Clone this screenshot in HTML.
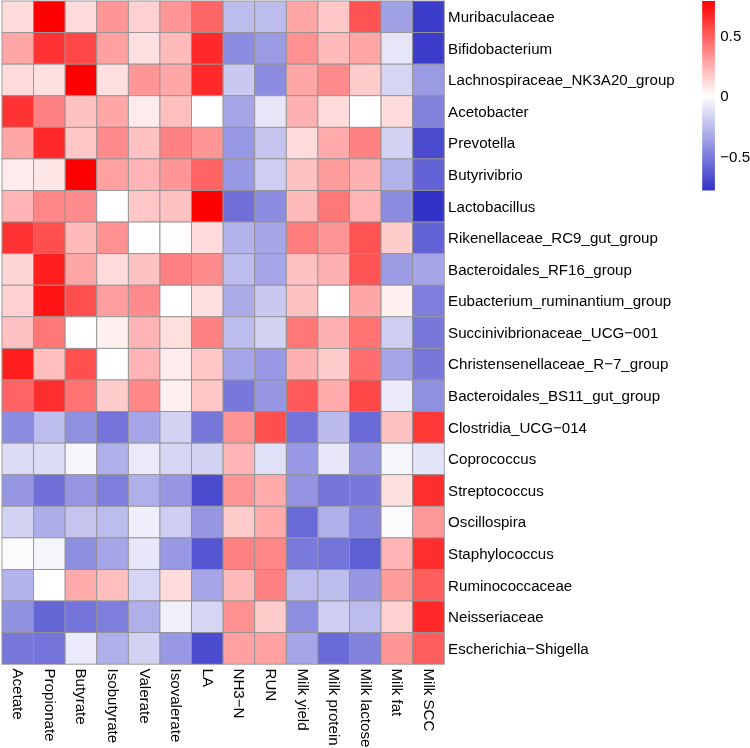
<!DOCTYPE html><html><head><meta charset="utf-8"><style>html,body{margin:0;padding:0;background:#fff;width:750px;height:748px;overflow:hidden}svg{display:block;will-change:transform}text{font-family:"Liberation Sans",sans-serif;font-size:15.1px;fill:#000}</style></head><body>
<svg width="750" height="748" viewBox="0 0 750 748">
<rect x="2.00" y="1.00" width="31.59" height="31.58" fill="rgb(255,219,219)" stroke="#949494" stroke-width="0.9"/>
<rect x="33.59" y="1.00" width="31.59" height="31.58" fill="rgb(255,0,0)" stroke="#949494" stroke-width="0.9"/>
<rect x="65.18" y="1.00" width="31.59" height="31.58" fill="rgb(255,219,219)" stroke="#949494" stroke-width="0.9"/>
<rect x="96.77" y="1.00" width="31.59" height="31.58" fill="rgb(255,150,150)" stroke="#949494" stroke-width="0.9"/>
<rect x="128.36" y="1.00" width="31.59" height="31.58" fill="rgb(255,209,209)" stroke="#949494" stroke-width="0.9"/>
<rect x="159.95" y="1.00" width="31.59" height="31.58" fill="rgb(255,150,150)" stroke="#949494" stroke-width="0.9"/>
<rect x="191.54" y="1.00" width="31.59" height="31.58" fill="rgb(255,102,102)" stroke="#949494" stroke-width="0.9"/>
<rect x="223.13" y="1.00" width="31.59" height="31.58" fill="rgb(189,189,237)" stroke="#949494" stroke-width="0.9"/>
<rect x="254.72" y="1.00" width="31.59" height="31.58" fill="rgb(189,189,237)" stroke="#949494" stroke-width="0.9"/>
<rect x="286.31" y="1.00" width="31.59" height="31.58" fill="rgb(255,166,166)" stroke="#949494" stroke-width="0.9"/>
<rect x="317.90" y="1.00" width="31.59" height="31.58" fill="rgb(255,199,199)" stroke="#949494" stroke-width="0.9"/>
<rect x="349.49" y="1.00" width="31.59" height="31.58" fill="rgb(255,82,82)" stroke="#949494" stroke-width="0.9"/>
<rect x="381.08" y="1.00" width="31.59" height="31.58" fill="rgb(161,161,230)" stroke="#949494" stroke-width="0.9"/>
<rect x="412.67" y="1.00" width="31.59" height="31.58" fill="rgb(60,60,203)" stroke="#949494" stroke-width="0.9"/>
<rect x="2.00" y="32.58" width="31.59" height="31.58" fill="rgb(255,166,166)" stroke="#949494" stroke-width="0.9"/>
<rect x="33.59" y="32.58" width="31.59" height="31.58" fill="rgb(255,51,51)" stroke="#949494" stroke-width="0.9"/>
<rect x="65.18" y="32.58" width="31.59" height="31.58" fill="rgb(255,71,71)" stroke="#949494" stroke-width="0.9"/>
<rect x="96.77" y="32.58" width="31.59" height="31.58" fill="rgb(255,161,161)" stroke="#949494" stroke-width="0.9"/>
<rect x="128.36" y="32.58" width="31.59" height="31.58" fill="rgb(255,224,224)" stroke="#949494" stroke-width="0.9"/>
<rect x="159.95" y="32.58" width="31.59" height="31.58" fill="rgb(255,186,186)" stroke="#949494" stroke-width="0.9"/>
<rect x="191.54" y="32.58" width="31.59" height="31.58" fill="rgb(255,41,41)" stroke="#949494" stroke-width="0.9"/>
<rect x="223.13" y="32.58" width="31.59" height="31.58" fill="rgb(140,140,224)" stroke="#949494" stroke-width="0.9"/>
<rect x="254.72" y="32.58" width="31.59" height="31.58" fill="rgb(155,155,228)" stroke="#949494" stroke-width="0.9"/>
<rect x="286.31" y="32.58" width="31.59" height="31.58" fill="rgb(255,145,145)" stroke="#949494" stroke-width="0.9"/>
<rect x="317.90" y="32.58" width="31.59" height="31.58" fill="rgb(255,186,186)" stroke="#949494" stroke-width="0.9"/>
<rect x="349.49" y="32.58" width="31.59" height="31.58" fill="rgb(255,166,166)" stroke="#949494" stroke-width="0.9"/>
<rect x="381.08" y="32.58" width="31.59" height="31.58" fill="rgb(230,230,248)" stroke="#949494" stroke-width="0.9"/>
<rect x="412.67" y="32.58" width="31.59" height="31.58" fill="rgb(60,60,203)" stroke="#949494" stroke-width="0.9"/>
<rect x="2.00" y="64.16" width="31.59" height="31.58" fill="rgb(255,219,219)" stroke="#949494" stroke-width="0.9"/>
<rect x="33.59" y="64.16" width="31.59" height="31.58" fill="rgb(255,224,224)" stroke="#949494" stroke-width="0.9"/>
<rect x="65.18" y="64.16" width="31.59" height="31.58" fill="rgb(255,0,0)" stroke="#949494" stroke-width="0.9"/>
<rect x="96.77" y="64.16" width="31.59" height="31.58" fill="rgb(255,224,224)" stroke="#949494" stroke-width="0.9"/>
<rect x="128.36" y="64.16" width="31.59" height="31.58" fill="rgb(255,150,150)" stroke="#949494" stroke-width="0.9"/>
<rect x="159.95" y="64.16" width="31.59" height="31.58" fill="rgb(255,166,166)" stroke="#949494" stroke-width="0.9"/>
<rect x="191.54" y="64.16" width="31.59" height="31.58" fill="rgb(255,41,41)" stroke="#949494" stroke-width="0.9"/>
<rect x="223.13" y="64.16" width="31.59" height="31.58" fill="rgb(200,200,240)" stroke="#949494" stroke-width="0.9"/>
<rect x="254.72" y="64.16" width="31.59" height="31.58" fill="rgb(140,140,224)" stroke="#949494" stroke-width="0.9"/>
<rect x="286.31" y="64.16" width="31.59" height="31.58" fill="rgb(255,166,166)" stroke="#949494" stroke-width="0.9"/>
<rect x="317.90" y="64.16" width="31.59" height="31.58" fill="rgb(255,140,140)" stroke="#949494" stroke-width="0.9"/>
<rect x="349.49" y="64.16" width="31.59" height="31.58" fill="rgb(255,204,204)" stroke="#949494" stroke-width="0.9"/>
<rect x="381.08" y="64.16" width="31.59" height="31.58" fill="rgb(214,214,244)" stroke="#949494" stroke-width="0.9"/>
<rect x="412.67" y="64.16" width="31.59" height="31.58" fill="rgb(155,155,228)" stroke="#949494" stroke-width="0.9"/>
<rect x="2.00" y="95.74" width="31.59" height="31.58" fill="rgb(255,51,51)" stroke="#949494" stroke-width="0.9"/>
<rect x="33.59" y="95.74" width="31.59" height="31.58" fill="rgb(255,130,130)" stroke="#949494" stroke-width="0.9"/>
<rect x="65.18" y="95.74" width="31.59" height="31.58" fill="rgb(255,194,194)" stroke="#949494" stroke-width="0.9"/>
<rect x="96.77" y="95.74" width="31.59" height="31.58" fill="rgb(255,166,166)" stroke="#949494" stroke-width="0.9"/>
<rect x="128.36" y="95.74" width="31.59" height="31.58" fill="rgb(255,235,235)" stroke="#949494" stroke-width="0.9"/>
<rect x="159.95" y="95.74" width="31.59" height="31.58" fill="rgb(255,191,191)" stroke="#949494" stroke-width="0.9"/>
<rect x="191.54" y="95.74" width="31.59" height="31.58" fill="rgb(255,255,255)" stroke="#949494" stroke-width="0.9"/>
<rect x="223.13" y="95.74" width="31.59" height="31.58" fill="rgb(165,165,231)" stroke="#949494" stroke-width="0.9"/>
<rect x="254.72" y="95.74" width="31.59" height="31.58" fill="rgb(230,230,248)" stroke="#949494" stroke-width="0.9"/>
<rect x="286.31" y="95.74" width="31.59" height="31.58" fill="rgb(255,176,176)" stroke="#949494" stroke-width="0.9"/>
<rect x="317.90" y="95.74" width="31.59" height="31.58" fill="rgb(255,219,219)" stroke="#949494" stroke-width="0.9"/>
<rect x="349.49" y="95.74" width="31.59" height="31.58" fill="rgb(255,255,255)" stroke="#949494" stroke-width="0.9"/>
<rect x="381.08" y="95.74" width="31.59" height="31.58" fill="rgb(255,219,219)" stroke="#949494" stroke-width="0.9"/>
<rect x="412.67" y="95.74" width="31.59" height="31.58" fill="rgb(130,130,221)" stroke="#949494" stroke-width="0.9"/>
<rect x="2.00" y="127.32" width="31.59" height="31.58" fill="rgb(255,166,166)" stroke="#949494" stroke-width="0.9"/>
<rect x="33.59" y="127.32" width="31.59" height="31.58" fill="rgb(255,41,41)" stroke="#949494" stroke-width="0.9"/>
<rect x="65.18" y="127.32" width="31.59" height="31.58" fill="rgb(255,199,199)" stroke="#949494" stroke-width="0.9"/>
<rect x="96.77" y="127.32" width="31.59" height="31.58" fill="rgb(255,140,140)" stroke="#949494" stroke-width="0.9"/>
<rect x="128.36" y="127.32" width="31.59" height="31.58" fill="rgb(255,194,194)" stroke="#949494" stroke-width="0.9"/>
<rect x="159.95" y="127.32" width="31.59" height="31.58" fill="rgb(255,130,130)" stroke="#949494" stroke-width="0.9"/>
<rect x="191.54" y="127.32" width="31.59" height="31.58" fill="rgb(255,150,150)" stroke="#949494" stroke-width="0.9"/>
<rect x="223.13" y="127.32" width="31.59" height="31.58" fill="rgb(152,152,228)" stroke="#949494" stroke-width="0.9"/>
<rect x="254.72" y="127.32" width="31.59" height="31.58" fill="rgb(196,196,239)" stroke="#949494" stroke-width="0.9"/>
<rect x="286.31" y="127.32" width="31.59" height="31.58" fill="rgb(255,219,219)" stroke="#949494" stroke-width="0.9"/>
<rect x="317.90" y="127.32" width="31.59" height="31.58" fill="rgb(255,171,171)" stroke="#949494" stroke-width="0.9"/>
<rect x="349.49" y="127.32" width="31.59" height="31.58" fill="rgb(255,130,130)" stroke="#949494" stroke-width="0.9"/>
<rect x="381.08" y="127.32" width="31.59" height="31.58" fill="rgb(210,210,243)" stroke="#949494" stroke-width="0.9"/>
<rect x="412.67" y="127.32" width="31.59" height="31.58" fill="rgb(75,75,207)" stroke="#949494" stroke-width="0.9"/>
<rect x="2.00" y="158.90" width="31.59" height="31.58" fill="rgb(255,235,235)" stroke="#949494" stroke-width="0.9"/>
<rect x="33.59" y="158.90" width="31.59" height="31.58" fill="rgb(255,230,230)" stroke="#949494" stroke-width="0.9"/>
<rect x="65.18" y="158.90" width="31.59" height="31.58" fill="rgb(255,0,0)" stroke="#949494" stroke-width="0.9"/>
<rect x="96.77" y="158.90" width="31.59" height="31.58" fill="rgb(255,161,161)" stroke="#949494" stroke-width="0.9"/>
<rect x="128.36" y="158.90" width="31.59" height="31.58" fill="rgb(255,181,181)" stroke="#949494" stroke-width="0.9"/>
<rect x="159.95" y="158.90" width="31.59" height="31.58" fill="rgb(255,150,150)" stroke="#949494" stroke-width="0.9"/>
<rect x="191.54" y="158.90" width="31.59" height="31.58" fill="rgb(255,99,99)" stroke="#949494" stroke-width="0.9"/>
<rect x="223.13" y="158.90" width="31.59" height="31.58" fill="rgb(152,152,228)" stroke="#949494" stroke-width="0.9"/>
<rect x="254.72" y="158.90" width="31.59" height="31.58" fill="rgb(206,206,242)" stroke="#949494" stroke-width="0.9"/>
<rect x="286.31" y="158.90" width="31.59" height="31.58" fill="rgb(255,194,194)" stroke="#949494" stroke-width="0.9"/>
<rect x="317.90" y="158.90" width="31.59" height="31.58" fill="rgb(255,156,156)" stroke="#949494" stroke-width="0.9"/>
<rect x="349.49" y="158.90" width="31.59" height="31.58" fill="rgb(255,176,176)" stroke="#949494" stroke-width="0.9"/>
<rect x="381.08" y="158.90" width="31.59" height="31.58" fill="rgb(179,179,235)" stroke="#949494" stroke-width="0.9"/>
<rect x="412.67" y="158.90" width="31.59" height="31.58" fill="rgb(99,99,213)" stroke="#949494" stroke-width="0.9"/>
<rect x="2.00" y="190.48" width="31.59" height="31.58" fill="rgb(255,181,181)" stroke="#949494" stroke-width="0.9"/>
<rect x="33.59" y="190.48" width="31.59" height="31.58" fill="rgb(255,135,135)" stroke="#949494" stroke-width="0.9"/>
<rect x="65.18" y="190.48" width="31.59" height="31.58" fill="rgb(255,140,140)" stroke="#949494" stroke-width="0.9"/>
<rect x="96.77" y="190.48" width="31.59" height="31.58" fill="rgb(255,255,255)" stroke="#949494" stroke-width="0.9"/>
<rect x="128.36" y="190.48" width="31.59" height="31.58" fill="rgb(255,199,199)" stroke="#949494" stroke-width="0.9"/>
<rect x="159.95" y="190.48" width="31.59" height="31.58" fill="rgb(255,194,194)" stroke="#949494" stroke-width="0.9"/>
<rect x="191.54" y="190.48" width="31.59" height="31.58" fill="rgb(255,0,0)" stroke="#949494" stroke-width="0.9"/>
<rect x="223.13" y="190.48" width="31.59" height="31.58" fill="rgb(112,112,216)" stroke="#949494" stroke-width="0.9"/>
<rect x="254.72" y="190.48" width="31.59" height="31.58" fill="rgb(140,140,224)" stroke="#949494" stroke-width="0.9"/>
<rect x="286.31" y="190.48" width="31.59" height="31.58" fill="rgb(255,186,186)" stroke="#949494" stroke-width="0.9"/>
<rect x="317.90" y="190.48" width="31.59" height="31.58" fill="rgb(255,120,120)" stroke="#949494" stroke-width="0.9"/>
<rect x="349.49" y="190.48" width="31.59" height="31.58" fill="rgb(255,181,181)" stroke="#949494" stroke-width="0.9"/>
<rect x="381.08" y="190.48" width="31.59" height="31.58" fill="rgb(140,140,224)" stroke="#949494" stroke-width="0.9"/>
<rect x="412.67" y="190.48" width="31.59" height="31.58" fill="rgb(50,50,200)" stroke="#949494" stroke-width="0.9"/>
<rect x="2.00" y="222.06" width="31.59" height="31.58" fill="rgb(255,51,51)" stroke="#949494" stroke-width="0.9"/>
<rect x="33.59" y="222.06" width="31.59" height="31.58" fill="rgb(255,79,79)" stroke="#949494" stroke-width="0.9"/>
<rect x="65.18" y="222.06" width="31.59" height="31.58" fill="rgb(255,186,186)" stroke="#949494" stroke-width="0.9"/>
<rect x="96.77" y="222.06" width="31.59" height="31.58" fill="rgb(255,145,145)" stroke="#949494" stroke-width="0.9"/>
<rect x="128.36" y="222.06" width="31.59" height="31.58" fill="rgb(255,255,255)" stroke="#949494" stroke-width="0.9"/>
<rect x="159.95" y="222.06" width="31.59" height="31.58" fill="rgb(255,252,252)" stroke="#949494" stroke-width="0.9"/>
<rect x="191.54" y="222.06" width="31.59" height="31.58" fill="rgb(255,219,219)" stroke="#949494" stroke-width="0.9"/>
<rect x="223.13" y="222.06" width="31.59" height="31.58" fill="rgb(179,179,235)" stroke="#949494" stroke-width="0.9"/>
<rect x="254.72" y="222.06" width="31.59" height="31.58" fill="rgb(165,165,231)" stroke="#949494" stroke-width="0.9"/>
<rect x="286.31" y="222.06" width="31.59" height="31.58" fill="rgb(255,125,125)" stroke="#949494" stroke-width="0.9"/>
<rect x="317.90" y="222.06" width="31.59" height="31.58" fill="rgb(255,150,150)" stroke="#949494" stroke-width="0.9"/>
<rect x="349.49" y="222.06" width="31.59" height="31.58" fill="rgb(255,82,82)" stroke="#949494" stroke-width="0.9"/>
<rect x="381.08" y="222.06" width="31.59" height="31.58" fill="rgb(255,204,204)" stroke="#949494" stroke-width="0.9"/>
<rect x="412.67" y="222.06" width="31.59" height="31.58" fill="rgb(99,99,213)" stroke="#949494" stroke-width="0.9"/>
<rect x="2.00" y="253.64" width="31.59" height="31.58" fill="rgb(255,214,214)" stroke="#949494" stroke-width="0.9"/>
<rect x="33.59" y="253.64" width="31.59" height="31.58" fill="rgb(255,31,31)" stroke="#949494" stroke-width="0.9"/>
<rect x="65.18" y="253.64" width="31.59" height="31.58" fill="rgb(255,166,166)" stroke="#949494" stroke-width="0.9"/>
<rect x="96.77" y="253.64" width="31.59" height="31.58" fill="rgb(255,219,219)" stroke="#949494" stroke-width="0.9"/>
<rect x="128.36" y="253.64" width="31.59" height="31.58" fill="rgb(255,194,194)" stroke="#949494" stroke-width="0.9"/>
<rect x="159.95" y="253.64" width="31.59" height="31.58" fill="rgb(255,128,128)" stroke="#949494" stroke-width="0.9"/>
<rect x="191.54" y="253.64" width="31.59" height="31.58" fill="rgb(255,140,140)" stroke="#949494" stroke-width="0.9"/>
<rect x="223.13" y="253.64" width="31.59" height="31.58" fill="rgb(189,189,237)" stroke="#949494" stroke-width="0.9"/>
<rect x="254.72" y="253.64" width="31.59" height="31.58" fill="rgb(165,165,231)" stroke="#949494" stroke-width="0.9"/>
<rect x="286.31" y="253.64" width="31.59" height="31.58" fill="rgb(255,194,194)" stroke="#949494" stroke-width="0.9"/>
<rect x="317.90" y="253.64" width="31.59" height="31.58" fill="rgb(255,176,176)" stroke="#949494" stroke-width="0.9"/>
<rect x="349.49" y="253.64" width="31.59" height="31.58" fill="rgb(255,84,84)" stroke="#949494" stroke-width="0.9"/>
<rect x="381.08" y="253.64" width="31.59" height="31.58" fill="rgb(155,155,228)" stroke="#949494" stroke-width="0.9"/>
<rect x="412.67" y="253.64" width="31.59" height="31.58" fill="rgb(165,165,231)" stroke="#949494" stroke-width="0.9"/>
<rect x="2.00" y="285.22" width="31.59" height="31.58" fill="rgb(255,209,209)" stroke="#949494" stroke-width="0.9"/>
<rect x="33.59" y="285.22" width="31.59" height="31.58" fill="rgb(255,20,20)" stroke="#949494" stroke-width="0.9"/>
<rect x="65.18" y="285.22" width="31.59" height="31.58" fill="rgb(255,79,79)" stroke="#949494" stroke-width="0.9"/>
<rect x="96.77" y="285.22" width="31.59" height="31.58" fill="rgb(255,158,158)" stroke="#949494" stroke-width="0.9"/>
<rect x="128.36" y="285.22" width="31.59" height="31.58" fill="rgb(255,140,140)" stroke="#949494" stroke-width="0.9"/>
<rect x="159.95" y="285.22" width="31.59" height="31.58" fill="rgb(255,255,255)" stroke="#949494" stroke-width="0.9"/>
<rect x="191.54" y="285.22" width="31.59" height="31.58" fill="rgb(255,224,224)" stroke="#949494" stroke-width="0.9"/>
<rect x="223.13" y="285.22" width="31.59" height="31.58" fill="rgb(171,171,232)" stroke="#949494" stroke-width="0.9"/>
<rect x="254.72" y="285.22" width="31.59" height="31.58" fill="rgb(200,200,240)" stroke="#949494" stroke-width="0.9"/>
<rect x="286.31" y="285.22" width="31.59" height="31.58" fill="rgb(255,194,194)" stroke="#949494" stroke-width="0.9"/>
<rect x="317.90" y="285.22" width="31.59" height="31.58" fill="rgb(255,255,255)" stroke="#949494" stroke-width="0.9"/>
<rect x="349.49" y="285.22" width="31.59" height="31.58" fill="rgb(255,166,166)" stroke="#949494" stroke-width="0.9"/>
<rect x="381.08" y="285.22" width="31.59" height="31.58" fill="rgb(255,240,240)" stroke="#949494" stroke-width="0.9"/>
<rect x="412.67" y="285.22" width="31.59" height="31.58" fill="rgb(126,126,220)" stroke="#949494" stroke-width="0.9"/>
<rect x="2.00" y="316.80" width="31.59" height="31.58" fill="rgb(255,194,194)" stroke="#949494" stroke-width="0.9"/>
<rect x="33.59" y="316.80" width="31.59" height="31.58" fill="rgb(255,120,120)" stroke="#949494" stroke-width="0.9"/>
<rect x="65.18" y="316.80" width="31.59" height="31.58" fill="rgb(255,255,255)" stroke="#949494" stroke-width="0.9"/>
<rect x="96.77" y="316.80" width="31.59" height="31.58" fill="rgb(255,240,240)" stroke="#949494" stroke-width="0.9"/>
<rect x="128.36" y="316.80" width="31.59" height="31.58" fill="rgb(255,181,181)" stroke="#949494" stroke-width="0.9"/>
<rect x="159.95" y="316.80" width="31.59" height="31.58" fill="rgb(255,222,222)" stroke="#949494" stroke-width="0.9"/>
<rect x="191.54" y="316.80" width="31.59" height="31.58" fill="rgb(255,130,130)" stroke="#949494" stroke-width="0.9"/>
<rect x="223.13" y="316.80" width="31.59" height="31.58" fill="rgb(189,189,237)" stroke="#949494" stroke-width="0.9"/>
<rect x="254.72" y="316.80" width="31.59" height="31.58" fill="rgb(210,210,243)" stroke="#949494" stroke-width="0.9"/>
<rect x="286.31" y="316.80" width="31.59" height="31.58" fill="rgb(255,120,120)" stroke="#949494" stroke-width="0.9"/>
<rect x="317.90" y="316.80" width="31.59" height="31.58" fill="rgb(255,176,176)" stroke="#949494" stroke-width="0.9"/>
<rect x="349.49" y="316.80" width="31.59" height="31.58" fill="rgb(255,115,115)" stroke="#949494" stroke-width="0.9"/>
<rect x="381.08" y="316.80" width="31.59" height="31.58" fill="rgb(206,206,242)" stroke="#949494" stroke-width="0.9"/>
<rect x="412.67" y="316.80" width="31.59" height="31.58" fill="rgb(120,120,219)" stroke="#949494" stroke-width="0.9"/>
<rect x="2.00" y="348.38" width="31.59" height="31.58" fill="rgb(255,31,31)" stroke="#949494" stroke-width="0.9"/>
<rect x="33.59" y="348.38" width="31.59" height="31.58" fill="rgb(255,191,191)" stroke="#949494" stroke-width="0.9"/>
<rect x="65.18" y="348.38" width="31.59" height="31.58" fill="rgb(255,79,79)" stroke="#949494" stroke-width="0.9"/>
<rect x="96.77" y="348.38" width="31.59" height="31.58" fill="rgb(255,255,255)" stroke="#949494" stroke-width="0.9"/>
<rect x="128.36" y="348.38" width="31.59" height="31.58" fill="rgb(255,181,181)" stroke="#949494" stroke-width="0.9"/>
<rect x="159.95" y="348.38" width="31.59" height="31.58" fill="rgb(255,235,235)" stroke="#949494" stroke-width="0.9"/>
<rect x="191.54" y="348.38" width="31.59" height="31.58" fill="rgb(255,199,199)" stroke="#949494" stroke-width="0.9"/>
<rect x="223.13" y="348.38" width="31.59" height="31.58" fill="rgb(165,165,231)" stroke="#949494" stroke-width="0.9"/>
<rect x="254.72" y="348.38" width="31.59" height="31.58" fill="rgb(152,152,228)" stroke="#949494" stroke-width="0.9"/>
<rect x="286.31" y="348.38" width="31.59" height="31.58" fill="rgb(255,176,176)" stroke="#949494" stroke-width="0.9"/>
<rect x="317.90" y="348.38" width="31.59" height="31.58" fill="rgb(255,204,204)" stroke="#949494" stroke-width="0.9"/>
<rect x="349.49" y="348.38" width="31.59" height="31.58" fill="rgb(255,110,110)" stroke="#949494" stroke-width="0.9"/>
<rect x="381.08" y="348.38" width="31.59" height="31.58" fill="rgb(165,165,231)" stroke="#949494" stroke-width="0.9"/>
<rect x="412.67" y="348.38" width="31.59" height="31.58" fill="rgb(120,120,219)" stroke="#949494" stroke-width="0.9"/>
<rect x="2.00" y="379.96" width="31.59" height="31.58" fill="rgb(255,99,99)" stroke="#949494" stroke-width="0.9"/>
<rect x="33.59" y="379.96" width="31.59" height="31.58" fill="rgb(255,46,46)" stroke="#949494" stroke-width="0.9"/>
<rect x="65.18" y="379.96" width="31.59" height="31.58" fill="rgb(255,115,115)" stroke="#949494" stroke-width="0.9"/>
<rect x="96.77" y="379.96" width="31.59" height="31.58" fill="rgb(255,204,204)" stroke="#949494" stroke-width="0.9"/>
<rect x="128.36" y="379.96" width="31.59" height="31.58" fill="rgb(255,135,135)" stroke="#949494" stroke-width="0.9"/>
<rect x="159.95" y="379.96" width="31.59" height="31.58" fill="rgb(255,240,240)" stroke="#949494" stroke-width="0.9"/>
<rect x="191.54" y="379.96" width="31.59" height="31.58" fill="rgb(255,199,199)" stroke="#949494" stroke-width="0.9"/>
<rect x="223.13" y="379.96" width="31.59" height="31.58" fill="rgb(120,120,219)" stroke="#949494" stroke-width="0.9"/>
<rect x="254.72" y="379.96" width="31.59" height="31.58" fill="rgb(150,150,227)" stroke="#949494" stroke-width="0.9"/>
<rect x="286.31" y="379.96" width="31.59" height="31.58" fill="rgb(255,89,89)" stroke="#949494" stroke-width="0.9"/>
<rect x="317.90" y="379.96" width="31.59" height="31.58" fill="rgb(255,171,171)" stroke="#949494" stroke-width="0.9"/>
<rect x="349.49" y="379.96" width="31.59" height="31.58" fill="rgb(255,71,71)" stroke="#949494" stroke-width="0.9"/>
<rect x="381.08" y="379.96" width="31.59" height="31.58" fill="rgb(234,234,250)" stroke="#949494" stroke-width="0.9"/>
<rect x="412.67" y="379.96" width="31.59" height="31.58" fill="rgb(144,144,225)" stroke="#949494" stroke-width="0.9"/>
<rect x="2.00" y="411.54" width="31.59" height="31.58" fill="rgb(140,140,224)" stroke="#949494" stroke-width="0.9"/>
<rect x="33.59" y="411.54" width="31.59" height="31.58" fill="rgb(189,189,237)" stroke="#949494" stroke-width="0.9"/>
<rect x="65.18" y="411.54" width="31.59" height="31.58" fill="rgb(144,144,225)" stroke="#949494" stroke-width="0.9"/>
<rect x="96.77" y="411.54" width="31.59" height="31.58" fill="rgb(116,116,218)" stroke="#949494" stroke-width="0.9"/>
<rect x="128.36" y="411.54" width="31.59" height="31.58" fill="rgb(165,165,231)" stroke="#949494" stroke-width="0.9"/>
<rect x="159.95" y="411.54" width="31.59" height="31.58" fill="rgb(210,210,243)" stroke="#949494" stroke-width="0.9"/>
<rect x="191.54" y="411.54" width="31.59" height="31.58" fill="rgb(120,120,219)" stroke="#949494" stroke-width="0.9"/>
<rect x="223.13" y="411.54" width="31.59" height="31.58" fill="rgb(255,150,150)" stroke="#949494" stroke-width="0.9"/>
<rect x="254.72" y="411.54" width="31.59" height="31.58" fill="rgb(255,79,79)" stroke="#949494" stroke-width="0.9"/>
<rect x="286.31" y="411.54" width="31.59" height="31.58" fill="rgb(116,116,218)" stroke="#949494" stroke-width="0.9"/>
<rect x="317.90" y="411.54" width="31.59" height="31.58" fill="rgb(187,187,237)" stroke="#949494" stroke-width="0.9"/>
<rect x="349.49" y="411.54" width="31.59" height="31.58" fill="rgb(105,105,215)" stroke="#949494" stroke-width="0.9"/>
<rect x="381.08" y="411.54" width="31.59" height="31.58" fill="rgb(255,194,194)" stroke="#949494" stroke-width="0.9"/>
<rect x="412.67" y="411.54" width="31.59" height="31.58" fill="rgb(255,56,56)" stroke="#949494" stroke-width="0.9"/>
<rect x="2.00" y="443.12" width="31.59" height="31.58" fill="rgb(220,220,246)" stroke="#949494" stroke-width="0.9"/>
<rect x="33.59" y="443.12" width="31.59" height="31.58" fill="rgb(220,220,246)" stroke="#949494" stroke-width="0.9"/>
<rect x="65.18" y="443.12" width="31.59" height="31.58" fill="rgb(245,245,252)" stroke="#949494" stroke-width="0.9"/>
<rect x="96.77" y="443.12" width="31.59" height="31.58" fill="rgb(175,175,234)" stroke="#949494" stroke-width="0.9"/>
<rect x="128.36" y="443.12" width="31.59" height="31.58" fill="rgb(234,234,250)" stroke="#949494" stroke-width="0.9"/>
<rect x="159.95" y="443.12" width="31.59" height="31.58" fill="rgb(214,214,244)" stroke="#949494" stroke-width="0.9"/>
<rect x="191.54" y="443.12" width="31.59" height="31.58" fill="rgb(210,210,243)" stroke="#949494" stroke-width="0.9"/>
<rect x="223.13" y="443.12" width="31.59" height="31.58" fill="rgb(255,181,181)" stroke="#949494" stroke-width="0.9"/>
<rect x="254.72" y="443.12" width="31.59" height="31.58" fill="rgb(224,224,247)" stroke="#949494" stroke-width="0.9"/>
<rect x="286.31" y="443.12" width="31.59" height="31.58" fill="rgb(152,152,228)" stroke="#949494" stroke-width="0.9"/>
<rect x="317.90" y="443.12" width="31.59" height="31.58" fill="rgb(230,230,248)" stroke="#949494" stroke-width="0.9"/>
<rect x="349.49" y="443.12" width="31.59" height="31.58" fill="rgb(150,150,227)" stroke="#949494" stroke-width="0.9"/>
<rect x="381.08" y="443.12" width="31.59" height="31.58" fill="rgb(245,245,252)" stroke="#949494" stroke-width="0.9"/>
<rect x="412.67" y="443.12" width="31.59" height="31.58" fill="rgb(228,228,248)" stroke="#949494" stroke-width="0.9"/>
<rect x="2.00" y="474.70" width="31.59" height="31.58" fill="rgb(150,150,227)" stroke="#949494" stroke-width="0.9"/>
<rect x="33.59" y="474.70" width="31.59" height="31.58" fill="rgb(112,112,216)" stroke="#949494" stroke-width="0.9"/>
<rect x="65.18" y="474.70" width="31.59" height="31.58" fill="rgb(150,150,227)" stroke="#949494" stroke-width="0.9"/>
<rect x="96.77" y="474.70" width="31.59" height="31.58" fill="rgb(126,126,220)" stroke="#949494" stroke-width="0.9"/>
<rect x="128.36" y="474.70" width="31.59" height="31.58" fill="rgb(175,175,234)" stroke="#949494" stroke-width="0.9"/>
<rect x="159.95" y="474.70" width="31.59" height="31.58" fill="rgb(150,150,227)" stroke="#949494" stroke-width="0.9"/>
<rect x="191.54" y="474.70" width="31.59" height="31.58" fill="rgb(75,75,207)" stroke="#949494" stroke-width="0.9"/>
<rect x="223.13" y="474.70" width="31.59" height="31.58" fill="rgb(255,150,150)" stroke="#949494" stroke-width="0.9"/>
<rect x="254.72" y="474.70" width="31.59" height="31.58" fill="rgb(255,171,171)" stroke="#949494" stroke-width="0.9"/>
<rect x="286.31" y="474.70" width="31.59" height="31.58" fill="rgb(148,148,226)" stroke="#949494" stroke-width="0.9"/>
<rect x="317.90" y="474.70" width="31.59" height="31.58" fill="rgb(116,116,218)" stroke="#949494" stroke-width="0.9"/>
<rect x="349.49" y="474.70" width="31.59" height="31.58" fill="rgb(120,120,219)" stroke="#949494" stroke-width="0.9"/>
<rect x="381.08" y="474.70" width="31.59" height="31.58" fill="rgb(255,224,224)" stroke="#949494" stroke-width="0.9"/>
<rect x="412.67" y="474.70" width="31.59" height="31.58" fill="rgb(255,46,46)" stroke="#949494" stroke-width="0.9"/>
<rect x="2.00" y="506.28" width="31.59" height="31.58" fill="rgb(210,210,243)" stroke="#949494" stroke-width="0.9"/>
<rect x="33.59" y="506.28" width="31.59" height="31.58" fill="rgb(173,173,233)" stroke="#949494" stroke-width="0.9"/>
<rect x="65.18" y="506.28" width="31.59" height="31.58" fill="rgb(196,196,239)" stroke="#949494" stroke-width="0.9"/>
<rect x="96.77" y="506.28" width="31.59" height="31.58" fill="rgb(189,189,237)" stroke="#949494" stroke-width="0.9"/>
<rect x="128.36" y="506.28" width="31.59" height="31.58" fill="rgb(239,239,251)" stroke="#949494" stroke-width="0.9"/>
<rect x="159.95" y="506.28" width="31.59" height="31.58" fill="rgb(206,206,242)" stroke="#949494" stroke-width="0.9"/>
<rect x="191.54" y="506.28" width="31.59" height="31.58" fill="rgb(150,150,227)" stroke="#949494" stroke-width="0.9"/>
<rect x="223.13" y="506.28" width="31.59" height="31.58" fill="rgb(255,204,204)" stroke="#949494" stroke-width="0.9"/>
<rect x="254.72" y="506.28" width="31.59" height="31.58" fill="rgb(255,171,171)" stroke="#949494" stroke-width="0.9"/>
<rect x="286.31" y="506.28" width="31.59" height="31.58" fill="rgb(105,105,215)" stroke="#949494" stroke-width="0.9"/>
<rect x="317.90" y="506.28" width="31.59" height="31.58" fill="rgb(175,175,234)" stroke="#949494" stroke-width="0.9"/>
<rect x="349.49" y="506.28" width="31.59" height="31.58" fill="rgb(134,134,223)" stroke="#949494" stroke-width="0.9"/>
<rect x="381.08" y="506.28" width="31.59" height="31.58" fill="rgb(251,251,254)" stroke="#949494" stroke-width="0.9"/>
<rect x="412.67" y="506.28" width="31.59" height="31.58" fill="rgb(255,153,153)" stroke="#949494" stroke-width="0.9"/>
<rect x="2.00" y="537.86" width="31.59" height="31.58" fill="rgb(251,251,254)" stroke="#949494" stroke-width="0.9"/>
<rect x="33.59" y="537.86" width="31.59" height="31.58" fill="rgb(245,245,252)" stroke="#949494" stroke-width="0.9"/>
<rect x="65.18" y="537.86" width="31.59" height="31.58" fill="rgb(142,142,225)" stroke="#949494" stroke-width="0.9"/>
<rect x="96.77" y="537.86" width="31.59" height="31.58" fill="rgb(165,165,231)" stroke="#949494" stroke-width="0.9"/>
<rect x="128.36" y="537.86" width="31.59" height="31.58" fill="rgb(230,230,248)" stroke="#949494" stroke-width="0.9"/>
<rect x="159.95" y="537.86" width="31.59" height="31.58" fill="rgb(152,152,228)" stroke="#949494" stroke-width="0.9"/>
<rect x="191.54" y="537.86" width="31.59" height="31.58" fill="rgb(85,85,209)" stroke="#949494" stroke-width="0.9"/>
<rect x="223.13" y="537.86" width="31.59" height="31.58" fill="rgb(255,130,130)" stroke="#949494" stroke-width="0.9"/>
<rect x="254.72" y="537.86" width="31.59" height="31.58" fill="rgb(255,135,135)" stroke="#949494" stroke-width="0.9"/>
<rect x="286.31" y="537.86" width="31.59" height="31.58" fill="rgb(122,122,219)" stroke="#949494" stroke-width="0.9"/>
<rect x="317.90" y="537.86" width="31.59" height="31.58" fill="rgb(116,116,218)" stroke="#949494" stroke-width="0.9"/>
<rect x="349.49" y="537.86" width="31.59" height="31.58" fill="rgb(95,95,212)" stroke="#949494" stroke-width="0.9"/>
<rect x="381.08" y="537.86" width="31.59" height="31.58" fill="rgb(255,181,181)" stroke="#949494" stroke-width="0.9"/>
<rect x="412.67" y="537.86" width="31.59" height="31.58" fill="rgb(255,46,46)" stroke="#949494" stroke-width="0.9"/>
<rect x="2.00" y="569.44" width="31.59" height="31.58" fill="rgb(179,179,235)" stroke="#949494" stroke-width="0.9"/>
<rect x="33.59" y="569.44" width="31.59" height="31.58" fill="rgb(255,255,255)" stroke="#949494" stroke-width="0.9"/>
<rect x="65.18" y="569.44" width="31.59" height="31.58" fill="rgb(255,171,171)" stroke="#949494" stroke-width="0.9"/>
<rect x="96.77" y="569.44" width="31.59" height="31.58" fill="rgb(255,191,191)" stroke="#949494" stroke-width="0.9"/>
<rect x="128.36" y="569.44" width="31.59" height="31.58" fill="rgb(214,214,244)" stroke="#949494" stroke-width="0.9"/>
<rect x="159.95" y="569.44" width="31.59" height="31.58" fill="rgb(255,219,219)" stroke="#949494" stroke-width="0.9"/>
<rect x="191.54" y="569.44" width="31.59" height="31.58" fill="rgb(165,165,231)" stroke="#949494" stroke-width="0.9"/>
<rect x="223.13" y="569.44" width="31.59" height="31.58" fill="rgb(255,186,186)" stroke="#949494" stroke-width="0.9"/>
<rect x="254.72" y="569.44" width="31.59" height="31.58" fill="rgb(255,130,130)" stroke="#949494" stroke-width="0.9"/>
<rect x="286.31" y="569.44" width="31.59" height="31.58" fill="rgb(189,189,237)" stroke="#949494" stroke-width="0.9"/>
<rect x="317.90" y="569.44" width="31.59" height="31.58" fill="rgb(189,189,237)" stroke="#949494" stroke-width="0.9"/>
<rect x="349.49" y="569.44" width="31.59" height="31.58" fill="rgb(150,150,227)" stroke="#949494" stroke-width="0.9"/>
<rect x="381.08" y="569.44" width="31.59" height="31.58" fill="rgb(255,156,156)" stroke="#949494" stroke-width="0.9"/>
<rect x="412.67" y="569.44" width="31.59" height="31.58" fill="rgb(255,94,94)" stroke="#949494" stroke-width="0.9"/>
<rect x="2.00" y="601.02" width="31.59" height="31.58" fill="rgb(146,146,226)" stroke="#949494" stroke-width="0.9"/>
<rect x="33.59" y="601.02" width="31.59" height="31.58" fill="rgb(101,101,214)" stroke="#949494" stroke-width="0.9"/>
<rect x="65.18" y="601.02" width="31.59" height="31.58" fill="rgb(116,116,218)" stroke="#949494" stroke-width="0.9"/>
<rect x="96.77" y="601.02" width="31.59" height="31.58" fill="rgb(126,126,220)" stroke="#949494" stroke-width="0.9"/>
<rect x="128.36" y="601.02" width="31.59" height="31.58" fill="rgb(175,175,234)" stroke="#949494" stroke-width="0.9"/>
<rect x="159.95" y="601.02" width="31.59" height="31.58" fill="rgb(241,241,251)" stroke="#949494" stroke-width="0.9"/>
<rect x="191.54" y="601.02" width="31.59" height="31.58" fill="rgb(214,214,244)" stroke="#949494" stroke-width="0.9"/>
<rect x="223.13" y="601.02" width="31.59" height="31.58" fill="rgb(255,145,145)" stroke="#949494" stroke-width="0.9"/>
<rect x="254.72" y="601.02" width="31.59" height="31.58" fill="rgb(255,204,204)" stroke="#949494" stroke-width="0.9"/>
<rect x="286.31" y="601.02" width="31.59" height="31.58" fill="rgb(142,142,225)" stroke="#949494" stroke-width="0.9"/>
<rect x="317.90" y="601.02" width="31.59" height="31.58" fill="rgb(206,206,242)" stroke="#949494" stroke-width="0.9"/>
<rect x="349.49" y="601.02" width="31.59" height="31.58" fill="rgb(189,189,237)" stroke="#949494" stroke-width="0.9"/>
<rect x="381.08" y="601.02" width="31.59" height="31.58" fill="rgb(255,209,209)" stroke="#949494" stroke-width="0.9"/>
<rect x="412.67" y="601.02" width="31.59" height="31.58" fill="rgb(255,41,41)" stroke="#949494" stroke-width="0.9"/>
<rect x="2.00" y="632.60" width="31.59" height="31.58" fill="rgb(120,120,219)" stroke="#949494" stroke-width="0.9"/>
<rect x="33.59" y="632.60" width="31.59" height="31.58" fill="rgb(116,116,218)" stroke="#949494" stroke-width="0.9"/>
<rect x="65.18" y="632.60" width="31.59" height="31.58" fill="rgb(234,234,250)" stroke="#949494" stroke-width="0.9"/>
<rect x="96.77" y="632.60" width="31.59" height="31.58" fill="rgb(175,175,234)" stroke="#949494" stroke-width="0.9"/>
<rect x="128.36" y="632.60" width="31.59" height="31.58" fill="rgb(210,210,243)" stroke="#949494" stroke-width="0.9"/>
<rect x="159.95" y="632.60" width="31.59" height="31.58" fill="rgb(152,152,228)" stroke="#949494" stroke-width="0.9"/>
<rect x="191.54" y="632.60" width="31.59" height="31.58" fill="rgb(75,75,207)" stroke="#949494" stroke-width="0.9"/>
<rect x="223.13" y="632.60" width="31.59" height="31.58" fill="rgb(255,161,161)" stroke="#949494" stroke-width="0.9"/>
<rect x="254.72" y="632.60" width="31.59" height="31.58" fill="rgb(255,161,161)" stroke="#949494" stroke-width="0.9"/>
<rect x="286.31" y="632.60" width="31.59" height="31.58" fill="rgb(165,165,231)" stroke="#949494" stroke-width="0.9"/>
<rect x="317.90" y="632.60" width="31.59" height="31.58" fill="rgb(105,105,215)" stroke="#949494" stroke-width="0.9"/>
<rect x="349.49" y="632.60" width="31.59" height="31.58" fill="rgb(130,130,221)" stroke="#949494" stroke-width="0.9"/>
<rect x="381.08" y="632.60" width="31.59" height="31.58" fill="rgb(255,150,150)" stroke="#949494" stroke-width="0.9"/>
<rect x="412.67" y="632.60" width="31.59" height="31.58" fill="rgb(255,94,94)" stroke="#949494" stroke-width="0.9"/>
<text x="448.1" y="22.09">Muribaculaceae</text>
<text x="448.1" y="53.67">Bifidobacterium</text>
<text x="448.1" y="85.25">Lachnospiraceae_NK3A20_group</text>
<text x="448.1" y="116.83">Acetobacter</text>
<text x="448.1" y="148.41">Prevotella</text>
<text x="448.1" y="179.99">Butyrivibrio</text>
<text x="448.1" y="211.57">Lactobacillus</text>
<text x="448.1" y="243.15">Rikenellaceae_RC9_gut_group</text>
<text x="448.1" y="274.73">Bacteroidales_RF16_group</text>
<text x="448.1" y="306.31">Eubacterium_ruminantium_group</text>
<text x="448.1" y="337.89">Succinivibrionaceae_UCG−001</text>
<text x="448.1" y="369.47">Christensenellaceae_R−7_group</text>
<text x="448.1" y="401.05">Bacteroidales_BS11_gut_group</text>
<text x="448.1" y="432.63">Clostridia_UCG−014</text>
<text x="448.1" y="464.21">Coprococcus</text>
<text x="448.1" y="495.79">Streptococcus</text>
<text x="448.1" y="527.37">Oscillospira</text>
<text x="448.1" y="558.95">Staphylococcus</text>
<text x="448.1" y="590.53">Ruminococcaceae</text>
<text x="448.1" y="622.11">Neisseriaceae</text>
<text x="448.1" y="653.69">Escherichia−Shigella</text>
<text transform="translate(13.20,668.5) rotate(90)" x="0" y="0">Acetate</text>
<text transform="translate(44.78,668.5) rotate(90)" x="0" y="0">Propionate</text>
<text transform="translate(76.38,668.5) rotate(90)" x="0" y="0">Butyrate</text>
<text transform="translate(107.97,668.5) rotate(90)" x="0" y="0">Isobutyrate</text>
<text transform="translate(139.56,668.5) rotate(90)" x="0" y="0">Valerate</text>
<text transform="translate(171.15,668.5) rotate(90)" x="0" y="0">Isovalerate</text>
<text transform="translate(202.74,668.5) rotate(90)" x="0" y="0">LA</text>
<text transform="translate(234.33,668.5) rotate(90)" x="0" y="0">NH3−N</text>
<text transform="translate(265.91,668.5) rotate(90)" x="0" y="0">RUN</text>
<text transform="translate(297.50,668.5) rotate(90)" x="0" y="0">Milk yield</text>
<text transform="translate(329.09,668.5) rotate(90)" x="0" y="0">Milk protein</text>
<text transform="translate(360.69,668.5) rotate(90)" x="0" y="0">Milk lactose</text>
<text transform="translate(392.27,668.5) rotate(90)" x="0" y="0">Milk fat</text>
<text transform="translate(423.86,668.5) rotate(90)" x="0" y="0">Milk SCC</text>
<defs><linearGradient id="lg" x1="0" y1="0" x2="0" y2="1"><stop offset="0" stop-color="rgb(255,0,0)"/><stop offset="0.5" stop-color="#fff"/><stop offset="1" stop-color="rgb(50,50,200)"/></linearGradient></defs>
<rect x="702.2" y="1" width="12.7" height="189.5" fill="url(#lg)"/>
<text x="720.3" y="40.7">0.5</text>
<text x="720.3" y="101.3">0</text>
<text x="720.3" y="161.7">−0.5</text>
</svg></body></html>
